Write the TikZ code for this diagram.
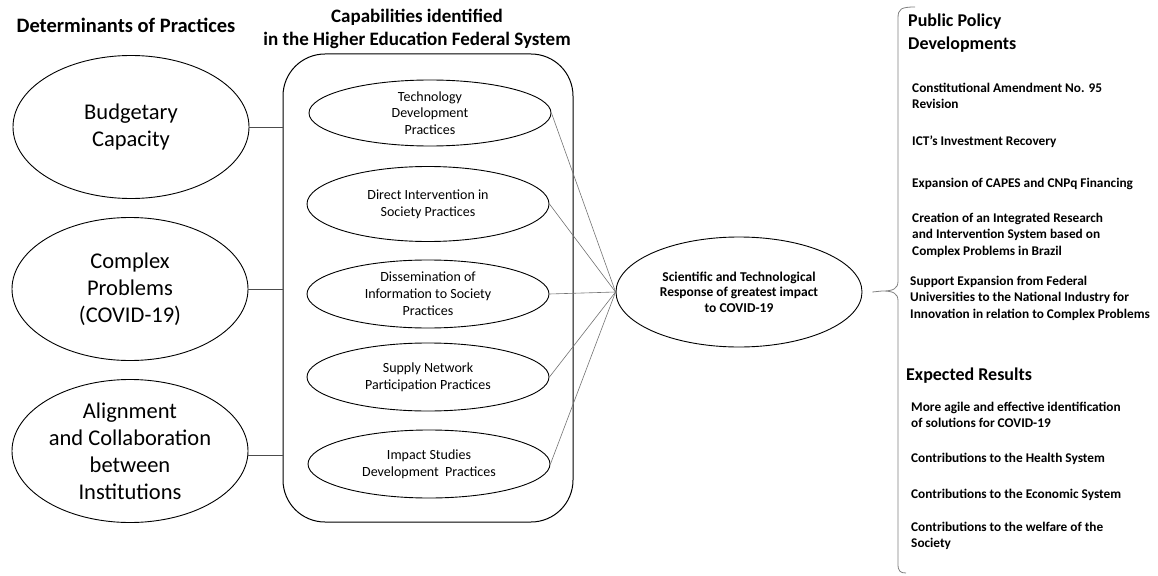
\documentclass[tikz,border=0pt]{standalone}
\usepackage{fontspec}
\setmainfont{Carlito}
\usetikzlibrary{shapes.geometric}
\tikzset{
  bigell/.style={draw, line width=0.9pt, ellipse, minimum width=236pt, minimum height=143pt, inner sep=0pt, align=center, font=\fontsize{22.5}{27}\selectfont},
  smallell/.style={draw, line width=0.9pt, ellipse, minimum width=242pt, minimum height=68pt, inner sep=0pt, align=center, font=\fontsize{14}{16.8}\selectfont},
  head/.style={font=\bfseries\fontsize{18}{23}\selectfont, align=center},
  item/.style={anchor=north west, align=left, font=\bfseries\fontsize{13.3}{16.8}\selectfont, inner sep=0pt},
  link/.style={draw=black!55, line width=0.6pt},
  conn/.style={draw=black!70, line width=0.7pt}
}
\begin{document}
\begin{tikzpicture}[x=1pt,y=-1pt]
\useasboundingbox (0,0) rectangle (1158,575);
% headers
\node[head, font=\bfseries\fontsize{20.5}{24}\selectfont] (hdet) at (126,25) {Determinants of Practices};
\node[head, font=\bfseries\fontsize{19}{23}\selectfont] (hcap) at (417,28.5) {Capabilities identified\\in the Higher Education Federal System};
% left ellipses
\node[bigell] (bud) at (131,127) {Budgetary\\Capacity};
\node[bigell] (cpx) at (130,289) {Complex\\Problems\\(COVID-19)};
\node[bigell] (ali) at (130,451) {Alignment\\and Collaboration\\between\\Institutions};
% box
\node[draw, line width=1pt, rounded corners=42pt, minimum width=290pt, minimum height=468pt, inner sep=0pt] (box) at (428,288) {};
% inner ellipses
\node[smallell, minimum height=66pt] (tec) at (430,113) {Technology\\Development\\Practices};
\node[smallell, minimum height=75pt] (dir) at (428,204) {Direct Intervention in\\Society Practices};
\node[smallell] (dis) at (428,294) {Dissemination of\\Information to Society\\Practices};
\node[smallell] (sup) at (428,377) {Supply Network\\Participation Practices};
\node[smallell] (imp) at (429,464) {Impact Studies\\Development~ Practices};
% central ellipse
\node[draw, line width=0.9pt, ellipse, minimum width=246pt, minimum height=110pt, inner sep=0pt, align=center, font=\bfseries\fontsize{13.5}{15.5}\selectfont] (sci) at (739,292) {Scientific and Technological\\Response of greatest impact\\to COVID-19};
% connectors left
\draw[conn] (bud.east) -- (bud.east -| box.west);
\draw[conn] (cpx.east) -- (cpx.east -| box.west);
\draw[conn] (ali.east |- 0,455) -- (box.west |- 0,455);
% connectors to central
\foreach \n in {tec,dir,dis,sup,imp}{\draw[link] (\n.east) -- (sci.west);}
% brace
\coordinate (btip) at ([xshift=10pt]sci.east);
\draw[black!50, line width=0.8pt] (915,7) .. controls (901,7) and (898,9) .. (898,18) -- (898,281) .. controls (898,289) and (893,291) .. (882,291) -- (btip)
  (882,291) .. controls (893,291) and (898,293) .. (898,301) -- (898,564) .. controls (898,571) and (900,573) .. (906,573);
% right texts
\node[head, anchor=north west, align=left, inner sep=0pt] (pp) at (908,14) {Public Policy\\Developments};
\node[item] (i1) at (912,82.5) {Constitutional Amendment No. 95\\Revision};
\node[item] (i2) at (912,135.5) {ICT's Investment Recovery};
\node[item] (i3) at (912,177.5) {Expansion of CAPES and CNPq Financing};
\node[item] (i4) at (912,212.5) {Creation of an Integrated Research\\and Intervention System based on\\Complex Problems in Brazil};
\node[item] (i5) at (910,275.5) {Support Expansion from Federal\\Universities to the National Industry for\\Innovation in relation to Complex Problems};
\node[head, anchor=north west, inner sep=0pt] (er) at (906,368) {Expected Results};
\node[item] (r1) at (911,401.5) {More agile and effective identification\\of solutions for COVID-19};
\node[item] (r2) at (911,452.5) {Contributions to the Health System};
\node[item] (r3) at (911,488.5) {Contributions to the Economic System};
\node[item] (r4) at (911,521.5) {Contributions to the welfare of the\\Society};
\end{tikzpicture}
\end{document}
